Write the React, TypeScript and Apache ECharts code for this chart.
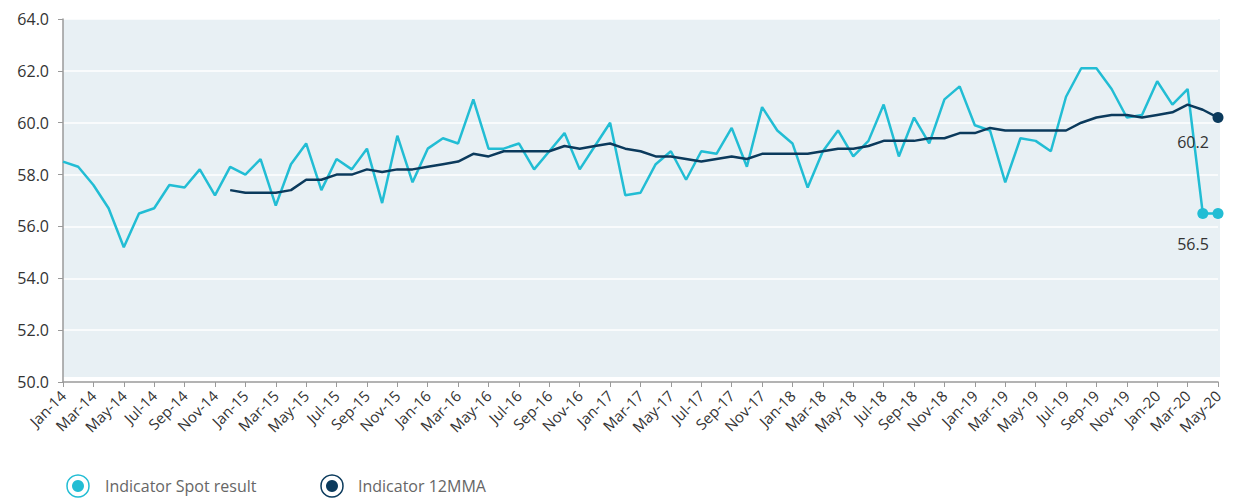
import React, { useEffect, useRef } from "react";
import * as echarts from "echarts";

const months: string[] = [
  "Jan-14","Feb-14","Mar-14","Apr-14","May-14","Jun-14","Jul-14","Aug-14","Sep-14","Oct-14","Nov-14","Dec-14",
  "Jan-15","Feb-15","Mar-15","Apr-15","May-15","Jun-15","Jul-15","Aug-15","Sep-15","Oct-15","Nov-15","Dec-15",
  "Jan-16","Feb-16","Mar-16","Apr-16","May-16","Jun-16","Jul-16","Aug-16","Sep-16","Oct-16","Nov-16","Dec-16",
  "Jan-17","Feb-17","Mar-17","Apr-17","May-17","Jun-17","Jul-17","Aug-17","Sep-17","Oct-17","Nov-17","Dec-17",
  "Jan-18","Feb-18","Mar-18","Apr-18","May-18","Jun-18","Jul-18","Aug-18","Sep-18","Oct-18","Nov-18","Dec-18",
  "Jan-19","Feb-19","Mar-19","Apr-19","May-19","Jun-19","Jul-19","Aug-19","Sep-19","Oct-19","Nov-19","Dec-19",
  "Jan-20","Feb-20","Mar-20","Apr-20","May-20",
];

const spotValues: number[] = [
  58.5, 58.3, 57.6, 56.7, 55.2, 56.5, 56.7, 57.6, 57.5, 58.2, 57.2, 58.3,
  58.0, 58.6, 56.8, 58.4, 59.2, 57.4, 58.6, 58.2, 59.0, 56.9, 59.5, 57.7,
  59.0, 59.4, 59.2, 60.9, 59.0, 59.0, 59.2, 58.2, 58.9, 59.6, 58.2, 59.1,
  60.0, 57.2, 57.3, 58.4, 58.9, 57.8, 58.9, 58.8, 59.8, 58.3, 60.6, 59.7,
  59.2, 57.5, 58.9, 59.7, 58.7, 59.3, 60.7, 58.7, 60.2, 59.2, 60.9, 61.4,
  59.9, 59.7, 57.7, 59.4, 59.3, 58.9, 61.0, 62.1, 62.1, 61.3, 60.2, 60.3,
  61.6, 60.7, 61.3, 56.5, 56.5,
];

const mmaValues: (number | null)[] = [
  null, null, null, null, null, null, null, null, null, null, null, 57.4,
  57.3, 57.3, 57.3, 57.4, 57.8, 57.8, 58.0, 58.0, 58.2, 58.1, 58.2, 58.2,
  58.3, 58.4, 58.5, 58.8, 58.7, 58.9, 58.9, 58.9, 58.9, 59.1, 59.0, 59.1,
  59.2, 59.0, 58.9, 58.7, 58.7, 58.6, 58.5, 58.6, 58.7, 58.6, 58.8, 58.8,
  58.8, 58.8, 58.9, 59.0, 59.0, 59.1, 59.3, 59.3, 59.3, 59.4, 59.4, 59.6,
  59.6, 59.8, 59.7, 59.7, 59.7, 59.7, 59.7, 60.0, 60.2, 60.3, 60.3, 60.2,
  60.3, 60.4, 60.7, 60.5, 60.2,
];

const seriesNames = ["Indicator Spot result", "Indicator 12MMA"];
const yMin = 50;
const yMax = 64;
const yStep = 2;

const SPOT = "#22bdd4";
const MMA = "#0b3a5c";
const FONT = "'Open Sans', 'Noto Sans', sans-serif";

export default function App() {
  const ref = useRef<HTMLDivElement>(null);
  useEffect(() => {
    if (!ref.current) return;
    const chart = echarts.init(ref.current, undefined, { renderer: "svg" });
    const last = spotValues.length - 1;

    const spotData = spotValues.map((v, i) => {
      if (i === last) {
        return {
          value: v,
          symbol: "circle",
          symbolSize: 11,
          label: {
            show: true,
            formatter: (p: any) => Number(p.value).toFixed(1),
            position: "bottom",
            offset: [-25, 12],
            fontSize: 16,
            color: "#333",
            fontFamily: FONT,
          },
        };
      }
      if (i === last - 1) return { value: v, symbol: "circle", symbolSize: 11 };
      return { value: v, symbol: "none" };
    });

    const mmaData = mmaValues.map((v, i) => {
      if (i === last) {
        return {
          value: v,
          symbol: "circle",
          symbolSize: 11,
          label: {
            show: true,
            formatter: (p: any) => Number(p.value).toFixed(1),
            position: "bottom",
            offset: [-25, 6],
            fontSize: 16,
            color: "#333",
            fontFamily: FONT,
          },
        };
      }
      return { value: v, symbol: "none" };
    });

    const legendItems = [
      { x: 78, textX: 105, color: SPOT, name: seriesNames[0] },
      { x: 332, textX: 358, color: MMA, name: seriesNames[1] },
    ];
    const legendGraphics: any[] = [];
    legendItems.forEach((l) => {
      legendGraphics.push({
        type: "circle",
        shape: { cx: l.x, cy: 486, r: 11 },
        style: { fill: "#fff", stroke: l.color, lineWidth: 1.5 },
      });
      legendGraphics.push({
        type: "circle",
        shape: { cx: l.x, cy: 486, r: 6 },
        style: { fill: l.color },
      });
      legendGraphics.push({
        type: "text",
        x: l.textX,
        y: 486,
        style: {
          text: l.name,
          fill: "#666",
          font: `16px ${FONT}`,
          verticalAlign: "middle",
        },
      });
    });

    chart.setOption({
      animation: false,
      textStyle: { fontFamily: FONT },
      grid: { left: 63, right: 18, top: 19, bottom: 116, containLabel: false },
      graphic: [
        {
          type: "rect",
          z: -10,
          shape: { x: 63, y: 19, width: 1157, height: 358 },
          style: { fill: "#e8f0f4" },
          silent: true,
        },
        ...legendGraphics,
      ],
      xAxis: {
        type: "category",
        data: months,
        boundaryGap: false,
        axisLine: { lineStyle: { color: "#9a9a9a", width: 1.5 } },
        axisTick: { interval: 1, length: 5, lineStyle: { color: "#9a9a9a" } },
        axisLabel: {
          interval: 1,
          rotate: 45,
          fontSize: 15,
          color: "#333",
          margin: 11,
          fontFamily: FONT,
        },
        splitLine: { show: false },
      },
      yAxis: {
        type: "value",
        min: yMin,
        max: yMax,
        interval: yStep,
        axisLine: { show: true, lineStyle: { color: "#9a9a9a", width: 1.5 } },
        axisTick: { show: true, length: 5, lineStyle: { color: "#9a9a9a" } },
        axisLabel: {
          formatter: (v: number) => v.toFixed(1),
          fontSize: 16,
          color: "#333",
          margin: 14,
          fontFamily: FONT,
        },
        splitLine: { show: true, lineStyle: { color: "#ffffff", width: 1.5 } },
      },
      series: [
        {
          name: seriesNames[0],
          type: "line",
          data: spotData,
          showSymbol: true,
          showAllSymbol: true,
          lineStyle: { color: SPOT, width: 2.5 },
          itemStyle: { color: SPOT },
          z: 2,
        },
        {
          name: seriesNames[1],
          type: "line",
          data: mmaData,
          showSymbol: true,
          showAllSymbol: true,
          connectNulls: false,
          lineStyle: { color: MMA, width: 2.5 },
          itemStyle: { color: MMA },
          z: 3,
        },
      ],
    });
    return () => chart.dispose();
  }, []);

  return (
    <div
      ref={ref}
      style={{ position: "fixed", left: 0, top: 0, width: 1236, height: 498, background: "#fff" }}
    />
  );
}
